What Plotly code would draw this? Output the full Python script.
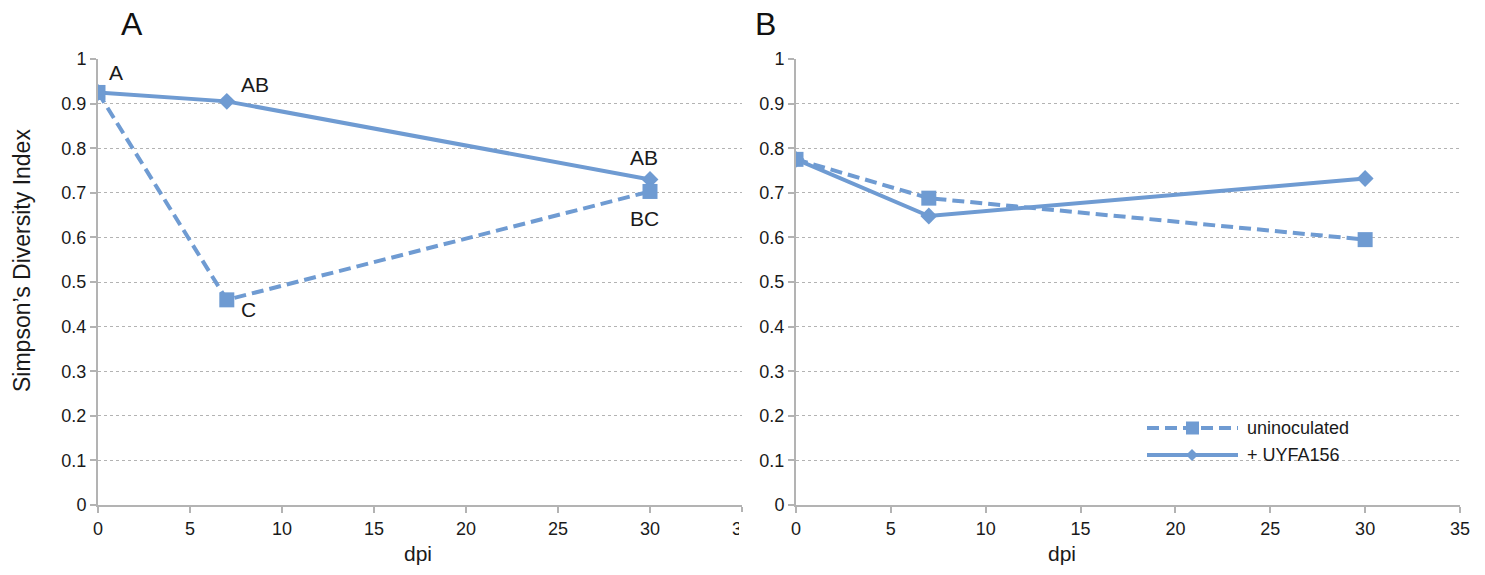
import plotly.graph_objects as go

dpi = [0, 7, 30]
a_uninoc = [0.925, 0.46, 0.703]
a_uyfa = [0.925, 0.905, 0.73]
b_uninoc = [0.775, 0.688, 0.595]
b_uyfa = [0.775, 0.648, 0.732]
a_letters_uninoc = ["", "C", "BC"]
a_letters_uyfa = ["A", "AB", "AB"]
series_names = ["uninoculated", "+ UYFA156"]

COLOR = "#6f9bd2"
FONT = "Liberation Sans"
TXT = "#1a1a1a"
W, H = 1485, 575
DASH = "12px,6px"

fig = go.Figure()


def add_series(xa, ya, ydata, name, dash, symbol, size):
    fig.add_trace(go.Scatter(
        x=dpi, y=ydata, xaxis=xa, yaxis=ya, mode="lines+markers", name=name,
        line=dict(color=COLOR, width=4, dash=dash),
        marker=dict(symbol=symbol, size=size, color=COLOR),
        showlegend=False))


add_series("x", "y", a_uyfa, series_names[1], "solid", "diamond", 13)
add_series("x", "y", a_uninoc, series_names[0], DASH, "square", 15)
add_series("x2", "y2", b_uninoc, series_names[0], DASH, "square", 15)
add_series("x2", "y2", b_uyfa, series_names[1], "solid", "diamond", 13)


def px_x(p):
    return p / W


def px_y(p):
    return 1 - p / H


ydom = [px_y(505), px_y(59)]
axis_common = dict(showline=True, linecolor="#b3b3b3", linewidth=2,
                   ticks="outside", ticklen=6, tickcolor="#b3b3b3", tickwidth=1.5,
                   tickfont=dict(family=FONT, size=18, color=TXT),
                   zeroline=False, automargin=False)
ygrid = dict(showgrid=True, gridcolor="#b3b3b3", griddash="3px,3px", gridwidth=1)
fig.update_layout(
    width=W, height=H, margin=dict(l=0, r=0, t=0, b=0, autoexpand=False),
    plot_bgcolor="white", paper_bgcolor="white",
    font=dict(family=FONT),
    showlegend=False,
    xaxis=dict(domain=[px_x(98), px_x(742)], range=[0, 35], dtick=5, showgrid=False,
               anchor="y", **axis_common),
    yaxis=dict(domain=ydom, range=[0, 1], dtick=0.1, tickformat="~g",
               anchor="x", **ygrid, **axis_common),
    xaxis2=dict(domain=[px_x(796), px_x(1460)], range=[0, 35], dtick=5, showgrid=False,
                anchor="y2", **axis_common),
    yaxis2=dict(domain=ydom, range=[0, 1], dtick=0.1, tickformat="~g",
                anchor="x2", **ygrid, **axis_common),
)


def paper_text(xp, yp, text, size, xanchor="center", angle=0, color=TXT):
    fig.add_annotation(x=px_x(xp), y=px_y(yp), xref="paper", yref="paper", text=text,
                       xanchor=xanchor, yanchor="middle", textangle=angle, showarrow=False,
                       font=dict(family=FONT, size=size, color=color))


# letter annotations attached to panel A points
offsets_uyfa = [(18, 20), (28, 17), (-6, 22)]
for xv, yv, t, (dx, dy) in zip(dpi, a_uyfa, a_letters_uyfa, offsets_uyfa):
    if t:
        fig.add_annotation(x=xv, y=yv, xref="x", yref="y", text=t, showarrow=False,
                           xanchor="center", yanchor="middle",
                           xshift=dx, yshift=dy, font=dict(family=FONT, size=21, color=TXT))
offsets_uninoc = [(0, 0), (22, -10), (-6, -27)]
for xv, yv, t, (dx, dy) in zip(dpi, a_uninoc, a_letters_uninoc, offsets_uninoc):
    if t:
        fig.add_annotation(x=xv, y=yv, xref="x", yref="y", text=t, showarrow=False,
                           xanchor="center", yanchor="middle",
                           xshift=dx, yshift=dy, font=dict(family=FONT, size=21, color=TXT))

# panel titles
paper_text(132, 24, "A", 32, color="#111")
paper_text(765, 24, "B", 32, color="#111")

# axis titles
paper_text(22, 261, "Simpson’s Diversity Index", 23, angle=-90)
paper_text(418, 553, "dpi", 21)
paper_text(1062, 553, "dpi", 21)

# legend in panel B (drawn manually for long line samples)
leg_rows = [(428, DASH, "square"), (455, "solid", "diamond")]
for (yp, dash, sym), name in zip(leg_rows, series_names):
    fig.add_shape(type="line", xref="paper", yref="paper", x0=px_x(1147), x1=px_x(1238),
                  y0=px_y(yp), y1=px_y(yp), line=dict(color=COLOR, width=4, dash=dash))
    if sym == "square":
        fig.add_shape(type="rect", xref="paper", yref="paper", x0=px_x(1186), x1=px_x(1199),
                      y0=px_y(yp + 6.5), y1=px_y(yp - 6.5), fillcolor=COLOR, line=dict(width=0))
    else:
        cx, cy = 1192, yp
        path = (f"M {px_x(cx - 6)} {px_y(cy)} L {px_x(cx)} {px_y(cy - 6)} "
                f"L {px_x(cx + 6)} {px_y(cy)} L {px_x(cx)} {px_y(cy + 6)} Z")
        fig.add_shape(type="path", xref="paper", yref="paper", path=path,
                      fillcolor=COLOR, line=dict(width=0))
    paper_text(1245, yp, name, 18, xanchor="left")

# panel A image is clipped on the right
fig.add_shape(type="rect", xref="paper", yref="paper", x0=px_x(739), x1=px_x(765),
              y0=px_y(545), y1=px_y(512), fillcolor="white", line=dict(width=0), layer="above")

fig.write_html("out.html")
